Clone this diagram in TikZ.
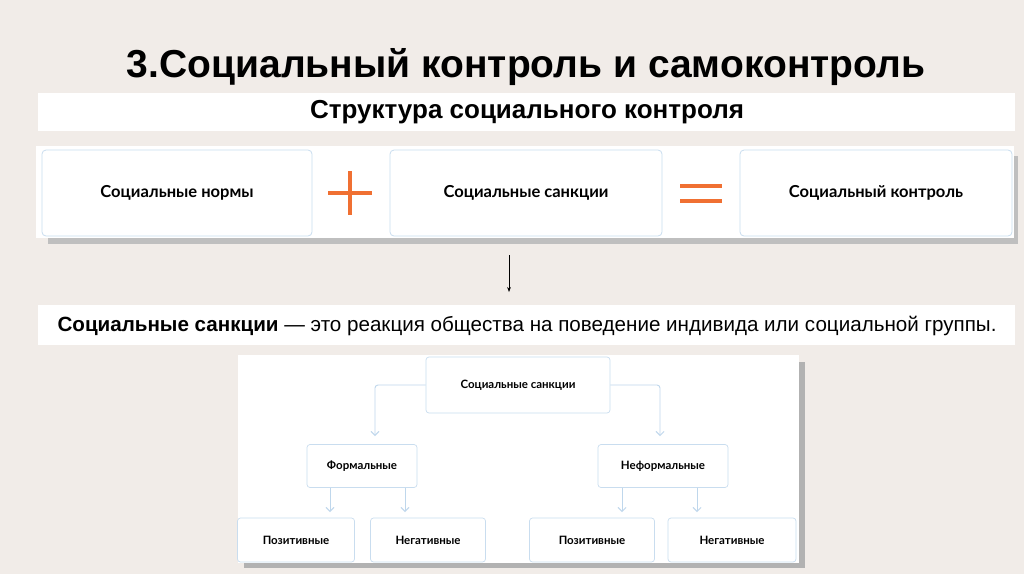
\documentclass[tikz,border=0pt]{standalone}
\usepackage{fontspec}
\setmainfont{Liberation Sans}
\newfontfamily\boxfont{Lato}
\usetikzlibrary{arrows.meta}
\definecolor{bg}{HTML}{F1ECE8}
\definecolor{edge}{HTML}{C9DDEF}
\definecolor{org}{HTML}{F07032}
\definecolor{lnk}{HTML}{BFD7EC}
\tikzset{
 bx/.style={draw=edge,line width=0.8pt,fill=white,rounded corners=4pt,font=\boxfont\bfseries\fontsize{16.5}{19}\selectfont},
 sb/.style={draw=edge,line width=0.7pt,fill=white,rounded corners=3pt,font=\boxfont\bfseries\fontsize{11.5}{13}\selectfont},
 lk/.style={draw=lnk,line width=0.9pt,rounded corners=3pt,-{Straight Barb[length=4pt,width=8pt]}},
}
\begin{document}
\begin{tikzpicture}[x=1pt,y=-1pt]
\fill[bg] (0,0) rectangle (1024,574);
\useasboundingbox (0,0) rectangle (1024,574);
\node[font=\bfseries\fontsize{39}{44}\selectfont] (title) at (526,67) {3.Социальный контроль и самоконтроль};
\fill[white] (38,93) rectangle (1015,131);
\node[font=\bfseries\fontsize{26}{30}\selectfont] (sub) at (527,112) {Структура социального контроля};
\fill[black!25] (48,156) rectangle (1018,244);
\fill[white] (36,146) rectangle (1014,238);
\node[bx,minimum width=270pt,minimum height=86pt] (n1) at (177,193) {Социальные нормы};
\node[bx,minimum width=272pt,minimum height=86pt] (n2) at (526,193) {Социальные санкции};
\node[bx,minimum width=272pt,minimum height=86pt] (n3) at (876,193) {Социальный контроль};
\draw[org,line width=3.5pt] (328,193) -- (372,193) (350,171) -- (350,215);
\draw[org,line width=3.5pt] (680,186) -- (722,186) (680,201) -- (722,201);
\coordinate (a1) at (509,255); \coordinate (a2) at (509,292);
\draw[-{Stealth[length=5pt]},line width=0.6pt] (a1) -- (a2);
\fill[white] (38,305) rectangle (1015,345);
\node[font=\fontsize{20.6}{23}\selectfont] (def) at (527,326) {\textbf{Социальные санкции} — это реакция общества на поведение индивида или социальной группы.};
\fill[black!30] (244,362) rectangle (805,568);
\fill[white] (238,355) rectangle (799,563);
\node[sb,minimum width=184pt,minimum height=56pt] (r) at (518,385) {Социальные санкции};
\node[sb,minimum width=110pt,minimum height=43pt] (f) at (362,466) {Формальные};
\node[sb,minimum width=130pt,minimum height=43pt] (nf) at (663,466) {Неформальные};
\node[sb,minimum width=117pt,minimum height=44pt] (p1) at (296,540) {Позитивные};
\node[sb,minimum width=115pt,minimum height=44pt] (g1) at (428,540) {Негативные};
\node[sb,minimum width=125pt,minimum height=44pt] (p2) at (592,540) {Позитивные};
\node[sb,minimum width=128pt,minimum height=44pt] (g2) at (732,540) {Негативные};
\coordinate (l1) at (375,436); \coordinate (l2) at (660,436);
\draw[lk] (r.west) -| (l1);
\draw[lk] (r.east) -| (l2);
\coordinate (c1) at (330,512); \coordinate (c2) at (405,512);
\coordinate (c3) at (622,512); \coordinate (c4) at (697,512);
\draw[lk] (f.south -| c1) -- (c1);
\draw[lk] (f.south -| c2) -- (c2);
\draw[lk] (nf.south -| c3) -- (c3);
\draw[lk] (nf.south -| c4) -- (c4);
\end{tikzpicture}
\end{document}
